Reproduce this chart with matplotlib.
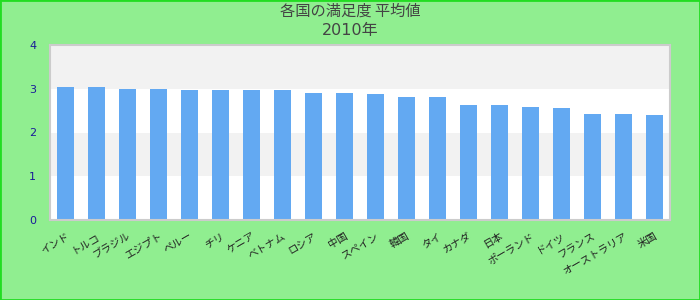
import matplotlib
matplotlib.use("Agg")
import matplotlib.pyplot as plt
from matplotlib.patches import Rectangle

# Data
countries = ["インド", "トルコ", "ブラジル", "エジプト", "ペルー", "チリ", "ケニア",
             "ベトナム", "ロシア", "中国", "スペイン", "韓国", "タイ", "カナダ", "日本",
             "ポーランド", "ドイツ", "フランス", "オーストラリア", "米国"]
scores = [3.03, 3.03, 3.00, 3.00, 2.98, 2.98, 2.98, 2.98, 2.91, 2.91,
          2.89, 2.82, 2.82, 2.63, 2.63, 2.59, 2.56, 2.43, 2.43, 2.40]
y_ticks = [0, 1, 2, 3, 4]
title_text = "各国の満足度 平均値"
subtitle_text = "2010年"

cjk = ["Noto Sans CJK JP", "DejaVu Sans"]
latin_first = ["DejaVu Sans", "Noto Sans CJK JP"]

fig = plt.figure(figsize=(7, 3), dpi=100, facecolor="#90EE90")
# outer frame
fig.patches.append(Rectangle((0, 0), 1, 1, transform=fig.transFigure,
                             fill=False, edgecolor="#22dd22", linewidth=2.0))

ax = fig.add_axes([50 / 700, 1 - 220 / 300, 620 / 700, 175 / 300])
ax.set_facecolor("white")

# alternating horizontal bands
for lo in range(0, 4):
    ax.axhspan(lo, lo + 1, color="#f2f2f2" if lo % 2 == 1 else "white",
               linewidth=0, zorder=0)

x = list(range(len(countries)))
ax.bar(x, scores, width=0.55, color="#63a9f2", zorder=2)

ax.set_xlim(-0.5, len(countries) - 0.5)
ax.set_ylim(0, 4)
ax.set_yticks(y_ticks)
ax.set_yticklabels([str(t) for t in y_ticks], family="DejaVu Sans",
                   fontsize=8, color="#1a1a99")
ax.tick_params(axis="y", length=0, pad=10)

ax.set_xticks(x)
ax.set_xticklabels(countries, family=cjk, fontsize=7.5, color="#222222",
                   rotation=30, ha="right", rotation_mode="anchor")
ax.tick_params(axis="x", length=0, pad=8)

for s in ax.spines.values():
    s.set_color("#cccccc")
    s.set_linewidth(1.5)

fig.text(0.5, 1 - 11 / 300, title_text, family=cjk, fontsize=11,
         color="#444444", ha="center", va="center")
fig.text(0.5, 1 - 31 / 300, subtitle_text, family=latin_first, fontsize=11.5,
         color="#444444", ha="center", va="center")

fig.savefig("out.png", dpi=100, facecolor=fig.get_facecolor())
